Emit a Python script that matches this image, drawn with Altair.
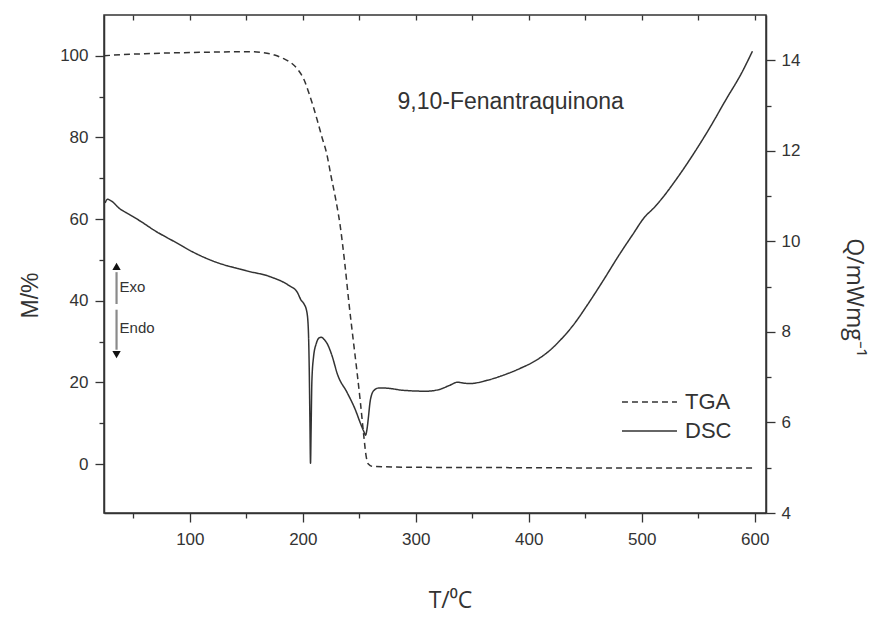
import altair as alt
import pandas as pd

# ---------------- data ----------------
TGA_T = [24, 40, 60, 80, 100, 120, 140, 155, 165, 175, 183, 190, 196, 201, 205, 209, 213,
         217, 221, 225, 229, 233, 237, 241, 245, 248, 251, 254, 256, 258, 262, 300, 400, 500, 598]
TGA_M = [100.0, 100.3, 100.5, 100.7, 100.8, 100.9, 101.0, 101.0, 100.8, 100.2, 99.3, 98.2,
         96.5, 94.2, 91.2, 87.8, 84.0, 80.0, 76.2, 70.5, 65.0, 58.5, 49.5, 39.0, 29.5, 22.5,
         15.0, 6.8, 2.0, 0.0, -0.6, -0.8, -0.9, -1.0, -1.0]

DSC_T = [25, 27, 30, 38, 46, 56, 70, 80, 91, 100, 120, 150, 171, 188, 195, 198.5, 201,
         203.5, 204.8, 205.6, 206.3, 206.8, 207.3, 208.0, 209.5, 212, 214.5, 216.5, 219, 222,
         225.5, 231, 239, 246, 251.5, 254, 255.5, 256.8, 258, 259.5, 261, 263.5, 267, 272,
         289, 309, 321, 330, 337, 342, 348, 363, 377, 392, 407, 419, 428, 440, 452, 465,
         480, 492, 503, 510, 518, 530, 545, 560, 575, 588, 598]
DSC_Q = [10.85, 10.93, 10.9, 10.72, 10.6, 10.45, 10.22, 10.08, 9.93, 9.8, 9.57, 9.35, 9.22,
         9.02, 8.88, 8.70, 8.62, 8.45, 8.1, 7.3, 6.0, 5.1, 5.8, 6.9, 7.45, 7.75, 7.87, 7.88,
         7.83, 7.72, 7.5, 7.04, 6.67, 6.31, 5.95, 5.8, 5.72, 5.85, 6.1, 6.45, 6.62, 6.72,
         6.76, 6.76, 6.71, 6.69, 6.73, 6.82, 6.89, 6.87, 6.86, 6.93, 7.04, 7.19, 7.38, 7.6,
         7.82, 8.17, 8.6, 9.1, 9.7, 10.15, 10.55, 10.72, 10.95, 11.35, 11.9, 12.5, 13.15,
         13.7, 14.2]

SERIES = ["TGA", "DSC"]
X_DOMAIN = [24, 610]
M_DOMAIN = [-12, 110]
Q_DOMAIN = [4, 15]
X_TICKS = list(range(50, 601, 50))
M_TICKS = list(range(0, 101, 10))
Q_TICKS = list(range(4, 15))

TITLE = "9,10-Fenantraquinona"
TITLE_POS = (384, 88.8)          # (T, M)
ARROW_T = 35.1
ARROW_UP = (39.2, 47.0)          # M range of up-arrow shaft
ARROW_DOWN = (37.8, 28.0)        # M range of down-arrow shaft
HEAD_UP_M = 48.4
HEAD_DOWN_M = 26.8
EXO = ("Exo", 37.8, 43.4)
ENDO = ("Endo", 37.8, 33.3)

# hand-drawn legend, placed in data units (T from, T to, text T, M)
LEG_T1, LEG_T2, LEG_TXT = 482.5, 531.2, 538.3
LEG_M = [15.2, 8.1]

INK = "#333333"
FONT = "Liberation Sans"

# ---------------- tables ----------------
tga = pd.DataFrame({"T": TGA_T, "M": TGA_M, "series": SERIES[0]})
dsc = pd.DataFrame({"T": DSC_T, "Q": DSC_Q, "series": SERIES[1]})

xs = alt.Scale(domain=X_DOMAIN, nice=False, zero=False)
ms = alt.Scale(domain=M_DOMAIN, nice=False, zero=False)
qs = alt.Scale(domain=Q_DOMAIN, nice=False, zero=False)
dash = alt.Scale(domain=SERIES, range=[[6, 4], [1, 0]])

x_bottom = alt.Axis(values=X_TICKS,
                    labelExpr="datum.value % 100 === 0 ? datum.label : ''",
                    tickSize={"condition": {"test": "datum.value % 100 === 0", "value": 9}, "value": 5},
                    labelPadding=9, labelFontSize=17, labelFont=FONT, labelColor=INK,
                    tickColor=INK, domainColor=INK, domainWidth=1.5, tickWidth=1.3,
                    grid=False, title="T/⁰C", titleFont="Open Sans", titleFontSize=23,
                    titleFontWeight="normal", titleColor=INK, titleX=346, titleY=87,
                    titleBaseline="middle")

x_top = alt.Axis(orient="top", values=X_TICKS, labels=False, domain=False, tickSize=5,
                 offset=-5, tickColor=INK, tickWidth=1.3, grid=False, title=None)

y_left = alt.Axis(values=M_TICKS,
                  labelExpr="datum.value % 20 === 0 ? datum.label : ''",
                  tickSize={"condition": {"test": "datum.value % 20 === 0", "value": 9}, "value": 5},
                  labelPadding=7, labelFontSize=17, labelFont=FONT, labelColor=INK,
                  tickColor=INK, domainColor=INK, domainWidth=1.5, tickWidth=1.3,
                  grid=False, title="M/%", titleFont=FONT, titleFontSize=23,
                  titleFontWeight="normal", titleColor=INK, titleAngle=-90,
                  titleX=-74, titleY=280, titleBaseline="middle")

y_right = alt.Axis(orient="right", values=Q_TICKS,
                   labelExpr="datum.value % 2 === 0 ? datum.label : ''",
                   tickSize={"condition": {"test": "datum.value % 2 === 0", "value": 9}, "value": 5},
                   labelPadding=6, labelFontSize=17, labelFont=FONT, labelColor=INK,
                   tickColor=INK, domainColor=INK, domainWidth=1.5, tickWidth=1.3,
                   grid=False, title="Q/mWmg⁻¹", titleFont="Open Sans", titleFontSize=23,
                   titleFontWeight="normal", titleColor=INK, titleAngle=90,
                   titleX=87, titleY=282, titleBaseline="middle")

tga_line = alt.Chart(tga).mark_line(color=INK, strokeWidth=1.5, interpolate="monotone").encode(
    x=alt.X("T:Q", scale=xs, axis=x_bottom),
    y=alt.Y("M:Q", scale=ms, axis=y_left),
    strokeDash=alt.StrokeDash("series:N", scale=dash, legend=None),
)

dsc_line = alt.Chart(dsc).mark_line(color=INK, strokeWidth=1.5, interpolate="monotone").encode(
    x=alt.X("T:Q", scale=xs, axis=x_top),
    y=alt.Y("Q:Q", scale=qs, axis=y_right),
    strokeDash=alt.StrokeDash("series:N", scale=dash, legend=None),
)

# legend (drawn with marks)
leg_df = pd.DataFrame({"series": SERIES, "T1": [LEG_T1] * 2, "T2": [LEG_T2] * 2,
                       "TT": [LEG_TXT] * 2, "M": LEG_M})
leg_rules = alt.Chart(leg_df).mark_rule(color=INK, strokeWidth=1.5).encode(
    x=alt.X("T1:Q", scale=xs, axis=None),
    x2="T2:Q",
    y=alt.Y("M:Q", scale=ms, axis=None),
    strokeDash=alt.StrokeDash("series:N", scale=dash, legend=None),
)
leg_text = alt.Chart(leg_df).mark_text(font=FONT, fontSize=22, color=INK,
                                       align="left", baseline="middle").encode(
    x=alt.X("TT:Q", scale=xs, axis=None),
    y=alt.Y("M:Q", scale=ms, axis=None),
    text="series:N",
)

title_df = pd.DataFrame({"T": [TITLE_POS[0]], "M": [TITLE_POS[1]], "label": [TITLE]})
title_mark = alt.Chart(title_df).mark_text(font=FONT, fontSize=23, color=INK,
                                           align="center", baseline="middle").encode(
    x=alt.X("T:Q", scale=xs, axis=None),
    y=alt.Y("M:Q", scale=ms, axis=None),
    text="label:N",
)

shafts = pd.DataFrame({"T": [ARROW_T, ARROW_T],
                       "M1": [ARROW_UP[0], ARROW_DOWN[0]],
                       "M2": [ARROW_UP[1], ARROW_DOWN[1]]})
shaft_mark = alt.Chart(shafts).mark_rule(color="#8a8a8a", strokeWidth=2.2).encode(
    x=alt.X("T:Q", scale=xs, axis=None),
    y=alt.Y("M1:Q", scale=ms, axis=None),
    y2="M2:Q",
)

heads = pd.DataFrame({"T": [ARROW_T, ARROW_T], "M": [HEAD_UP_M, HEAD_DOWN_M],
                      "dir": ["up", "down"]})
head_mark = alt.Chart(heads).mark_point(filled=True, color="#111111", size=70, opacity=1).encode(
    x=alt.X("T:Q", scale=xs, axis=None),
    y=alt.Y("M:Q", scale=ms, axis=None),
    shape=alt.Shape("dir:N", scale=alt.Scale(domain=["up", "down"],
                                             range=["triangle-up", "triangle-down"]),
                    legend=None),
)

exo_df = pd.DataFrame({"label": [EXO[0], ENDO[0]], "T": [EXO[1], ENDO[1]], "M": [EXO[2], ENDO[2]]})
exo_mark = alt.Chart(exo_df).mark_text(font=FONT, fontSize=15, color=INK,
                                       align="left", baseline="middle").encode(
    x=alt.X("T:Q", scale=xs, axis=None),
    y=alt.Y("M:Q", scale=ms, axis=None),
    text="label:N",
)

chart = alt.layer(tga_line, dsc_line, leg_rules, leg_text, title_mark, shaft_mark,
                  head_mark, exo_mark).resolve_scale(
    y="independent"
).resolve_axis(
    x="independent", y="independent"
).properties(
    width=662, height=498,
    autosize=alt.AutoSizeParams(type="none"),
    padding={"left": 96, "top": 7, "right": 111, "bottom": 107},
    background="white",
).configure_view(stroke=INK, strokeWidth=1.5)

chart.save("out.html", embed_options={"renderer": "svg", "actions": False})
